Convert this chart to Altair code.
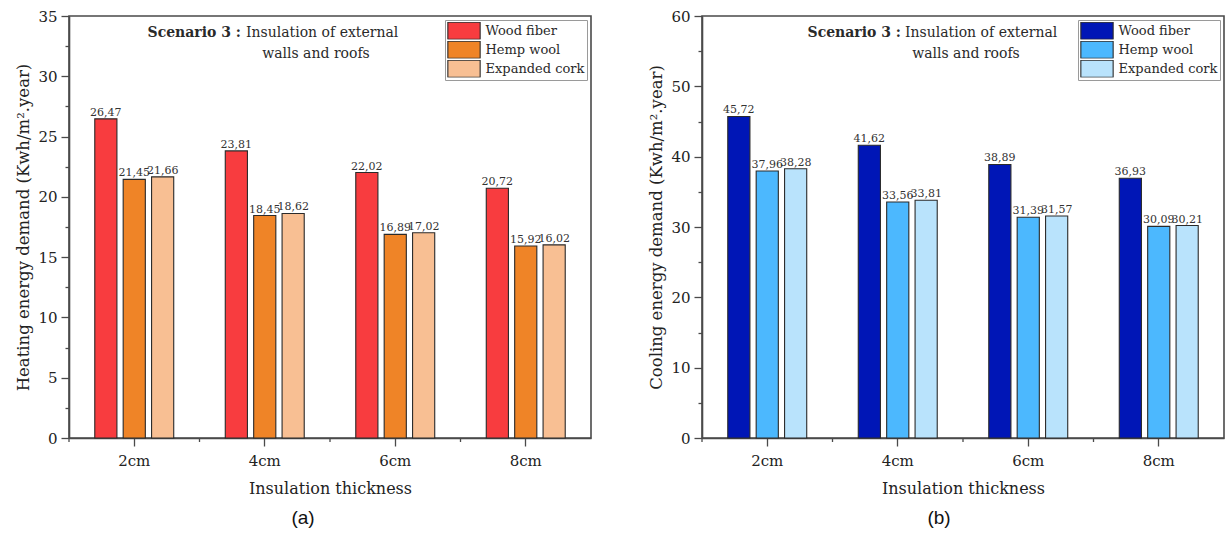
import altair as alt
import pandas as pd

# Insulation thickness categories and materials
thickness = ["2cm", "4cm", "6cm", "8cm"]
materials = ["Wood fiber", "Hemp wool", "Expanded cork"]

# Heating energy demand (kWh/m².year)
heating_wood = [26.47, 23.81, 22.02, 20.72]
heating_hemp = [21.45, 18.45, 16.89, 15.92]
heating_cork = [21.66, 18.62, 17.02, 16.02]

# Cooling energy demand (kWh/m².year)
cooling_wood = [45.72, 41.62, 38.89, 36.93]
cooling_hemp = [37.96, 33.56, 31.39, 30.09]
cooling_cork = [38.28, 33.81, 31.57, 30.21]

heating_colors = ["#F83C3F", "#EF8427", "#F8BF93"]
cooling_colors = ["#0016B6", "#4CB8FE", "#B9E3FC"]

SERIF = "DejaVu Serif"
INK = "#2a2a2a"
FRAME = "#4a4a4a"
W, H = 522, 422
PAD_IN = 0.395
PAD_OUT = PAD_IN / 2


def long_table(series):
    rows = []
    for mat, vals in zip(materials, series):
        for t, v in zip(thickness, vals):
            rows.append({"thickness": t, "material": mat, "value": v})
    return pd.DataFrame(rows)


def note(text, x, y, align, bold=False):
    return alt.Chart(pd.DataFrame({"t": [text]})).mark_text(
        font=SERIF, fontSize=14, fontWeight="bold" if bold else "normal",
        color=INK, align=align, baseline="middle",
    ).encode(x=alt.value(x), y=alt.value(y), text="t:N")


def panel(df, colors, ymax, major, ytitle, head_x, tag, tag_dx):
    minor = major / 2
    tick_values = [i * minor for i in range(int(round(ymax / minor)) + 1)]
    xscale = alt.Scale(paddingInner=PAD_IN, paddingOuter=PAD_OUT)
    base = alt.Chart(df).encode(
        x=alt.X(
            "thickness:N", sort=thickness, scale=xscale,
            axis=alt.Axis(title="Insulation thickness", labelAngle=0,
                          tickSize=8, labelPadding=7, titlePadding=12),
        ),
        xOffset=alt.XOffset("material:N", sort=materials,
                            scale=alt.Scale(paddingInner=0.22, paddingOuter=0)),
        y=alt.Y(
            "value:Q",
            scale=alt.Scale(domain=[0, ymax], nice=False, zero=True),
            axis=alt.Axis(
                title=ytitle, values=tick_values, titleFontSize=16.5,
                labelExpr=f"datum.value % {major} == 0 ? datum.label : ''",
                tickSize={"condition": {"test": f"datum.value % {major} == 0", "value": 8}, "value": 4},
                labelPadding=4, titlePadding=6,
            ),
        ),
    )
    bars = base.mark_bar(stroke=INK, strokeWidth=1.1).encode(
        color=alt.Color(
            "material:N", sort=materials,
            scale=alt.Scale(domain=materials, range=colors),
            legend=alt.Legend(
                title=None, orient="top-right", offset=4, padding=2,
                strokeColor="#9a9a9a", fillColor="white",
                symbolType="M-1.9,-1H1.9V1H-1.9Z", symbolSize=289,
                symbolStrokeColor=INK, symbolStrokeWidth=1.1, symbolOpacity=1,
                symbolOffset=7.5, labelOffset=12, clipHeight=17.5, rowPadding=1,
                labelFont=SERIF, labelFontSize=13, labelColor=INK,
            ),
        )
    )
    labels = base.transform_calculate(
        lab="replace(format(datum.value, '.2f'), '.', ',')"
    ).mark_text(font=SERIF, fontSize=11, color="#333", baseline="bottom", dy=-1).encode(
        text="lab:N"
    )
    # short ticks on the boundaries between thickness groups
    edges = alt.Chart(pd.DataFrame({"thickness": thickness})).mark_rule(
        color=FRAME, strokeWidth=1.3, xOffset=-PAD_OUT * W / len(thickness)
    ).encode(
        x=alt.X("thickness:N", sort=thickness, scale=xscale, bandPosition=0),
        y=alt.value(H), y2=alt.value(H + 4),
    )
    sx, ix, wx = head_x
    heading = (
        note("Scenario 3 :", sx, 17, "right", bold=True)
        + note("Insulation of external", ix, 17, "left")
        + note("walls and roofs", wx, 38, "center")
    )
    return alt.layer(bars, labels, edges, heading).properties(
        width=W, height=H,
        title=alt.TitleParams(tag, orient="bottom", font="Liberation Sans",
                              fontSize=19, fontWeight="normal", color="#111",
                              dx=tag_dx, offset=13),
    )


heat = panel(long_table([heating_wood, heating_hemp, heating_cork]), heating_colors,
             35, 5, "Heating energy demand (Kwh/m².year)", (172, 177, 247), "(a)", -27)
cool = panel(long_table([cooling_wood, cooling_hemp, cooling_cork]), cooling_colors,
             60, 10, "Cooling energy demand (Kwh/m².year)", (199, 203, 264), "(b)", -24)

chart = (
    alt.hconcat(heat, cool, spacing=56)
    .resolve_scale(color="independent", y="independent")
    .properties(padding={"left": 15, "top": 8, "right": 0, "bottom": 0},
                background="white")
    .configure_view(stroke=FRAME, strokeWidth=1.6)
    .configure_axis(
        labelFont=SERIF, labelFontSize=15, labelColor="#222",
        titleFont=SERIF, titleFontSize=16, titleFontWeight="normal", titleColor="#222",
        domainColor=FRAME, domainWidth=1.6, tickColor=FRAME, tickWidth=1.3, grid=False,
    )
)

chart.save("out.html", embed_options={"renderer": "svg", "actions": False})
